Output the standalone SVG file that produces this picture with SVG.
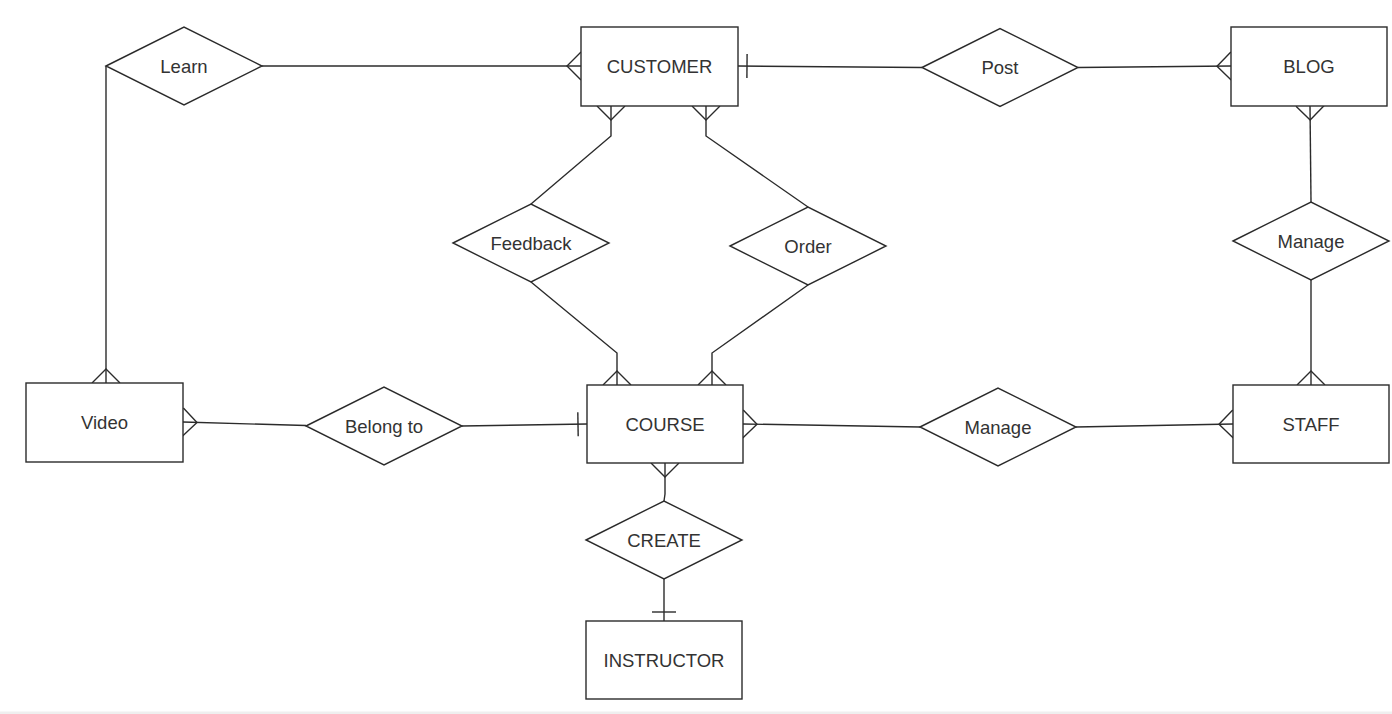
<svg xmlns="http://www.w3.org/2000/svg" width="1392" height="714" viewBox="0 0 1392 714">
<style>
.ent{fill:#fff;stroke:#2b2b2b;stroke-width:1.4}
.rel{fill:#fff;stroke:#2b2b2b;stroke-width:1.4}
.lbl{font-family:"Liberation Sans",Arial,sans-serif;font-size:18.5px;fill:#333;text-anchor:middle;dominant-baseline:central}
.con{fill:none;stroke:#2b2b2b;stroke-width:1.4}
.m{fill:none;stroke:#2b2b2b;stroke-width:1.4}
</style>
<defs>
<marker id="many" markerUnits="userSpaceOnUse" markerWidth="40" markerHeight="40" viewBox="-20 -20 40 40" refX="0" refY="0" orient="auto" overflow="visible">
<path class="m" d="M0,-14 L-14,0 L0,14"/>
</marker>
<marker id="one" markerUnits="userSpaceOnUse" markerWidth="40" markerHeight="40" viewBox="-20 -20 40 40" refX="0" refY="0" orient="auto" overflow="visible">
<path class="m" d="M-9,-12 L-9,12"/>
</marker>
</defs>
<rect x="0" y="0" width="1392" height="714" fill="#fff"/>
<rect x="0" y="711.5" width="1392" height="2.5" fill="#efefef"/>
<g id="connectors">
<path class="con" d="M262,66 L581,66" marker-end="url(#many)"/>
<path class="con" d="M106,66 L106,383" marker-end="url(#many)"/>
<path class="con" d="M922,67.5 L738,66" marker-end="url(#one)"/>
<path class="con" d="M1078,67.5 L1231,66" marker-end="url(#many)"/>
<path class="con" d="M1311,202 L1310,106" marker-end="url(#many)"/>
<path class="con" d="M1311,280 L1311,385" marker-end="url(#many)"/>
<path class="con" d="M920,427 L743,424" marker-end="url(#many)"/>
<path class="con" d="M1076,427 L1233,424" marker-end="url(#many)"/>
<path class="con" d="M306,425.5 L183,422" marker-end="url(#many)"/>
<path class="con" d="M462,426 L587,424" marker-end="url(#one)"/>
<path class="con" d="M531,204 L611,136 L611,106" marker-end="url(#many)"/>
<path class="con" d="M531,282 L617,353 L617,385" marker-end="url(#many)"/>
<path class="con" d="M808,207 L706,136 L706,106" marker-end="url(#many)"/>
<path class="con" d="M808,285 L712,353 L712,385" marker-end="url(#many)"/>
<path class="con" d="M664,501 L665,494 L665,463" marker-end="url(#many)"/>
<path class="con" d="M664,579 L664,621" marker-end="url(#one)"/>
</g>
<g id="customer"><rect class="ent" x="581" y="27" width="157" height="79"/><text class="lbl" x="659.5" y="66.5">CUSTOMER</text></g>
<g id="blog"><rect class="ent" x="1231" y="27" width="156" height="79"/><text class="lbl" x="1309" y="66.5">BLOG</text></g>
<g id="video"><rect class="ent" x="26" y="383" width="157" height="79"/><text class="lbl" x="104.5" y="422.5">Video</text></g>
<g id="course"><rect class="ent" x="587" y="385" width="156" height="78"/><text class="lbl" x="665" y="424">COURSE</text></g>
<g id="staff"><rect class="ent" x="1233" y="385" width="156" height="78"/><text class="lbl" x="1311" y="424">STAFF</text></g>
<g id="instructor"><rect class="ent" x="586" y="621" width="156" height="78"/><text class="lbl" x="664" y="660">INSTRUCTOR</text></g>
<g id="learn"><polygon class="rel" points="106,66 184,27 262,66 184,105"/><text class="lbl" x="184" y="66">Learn</text></g>
<g id="post"><polygon class="rel" points="922,67.5 1000,28.5 1078,67.5 1000,106.5"/><text class="lbl" x="1000" y="67.5">Post</text></g>
<g id="feedback"><polygon class="rel" points="453,243 531,204 609,243 531,282"/><text class="lbl" x="531" y="243">Feedback</text></g>
<g id="order"><polygon class="rel" points="730,246 808,207 886,246 808,285"/><text class="lbl" x="808" y="246">Order</text></g>
<g id="manage-blog"><polygon class="rel" points="1233,241 1311,202 1389,241 1311,280"/><text class="lbl" x="1311" y="241">Manage</text></g>
<g id="belong-to"><polygon class="rel" points="306,426 384,387 462,426 384,465"/><text class="lbl" x="384" y="426">Belong to</text></g>
<g id="manage-staff"><polygon class="rel" points="920,427 998,388 1076,427 998,466"/><text class="lbl" x="998" y="427">Manage</text></g>
<g id="create"><polygon class="rel" points="586,540 664,501 742,540 664,579"/><text class="lbl" x="664" y="540">CREATE</text></g>
</svg>
